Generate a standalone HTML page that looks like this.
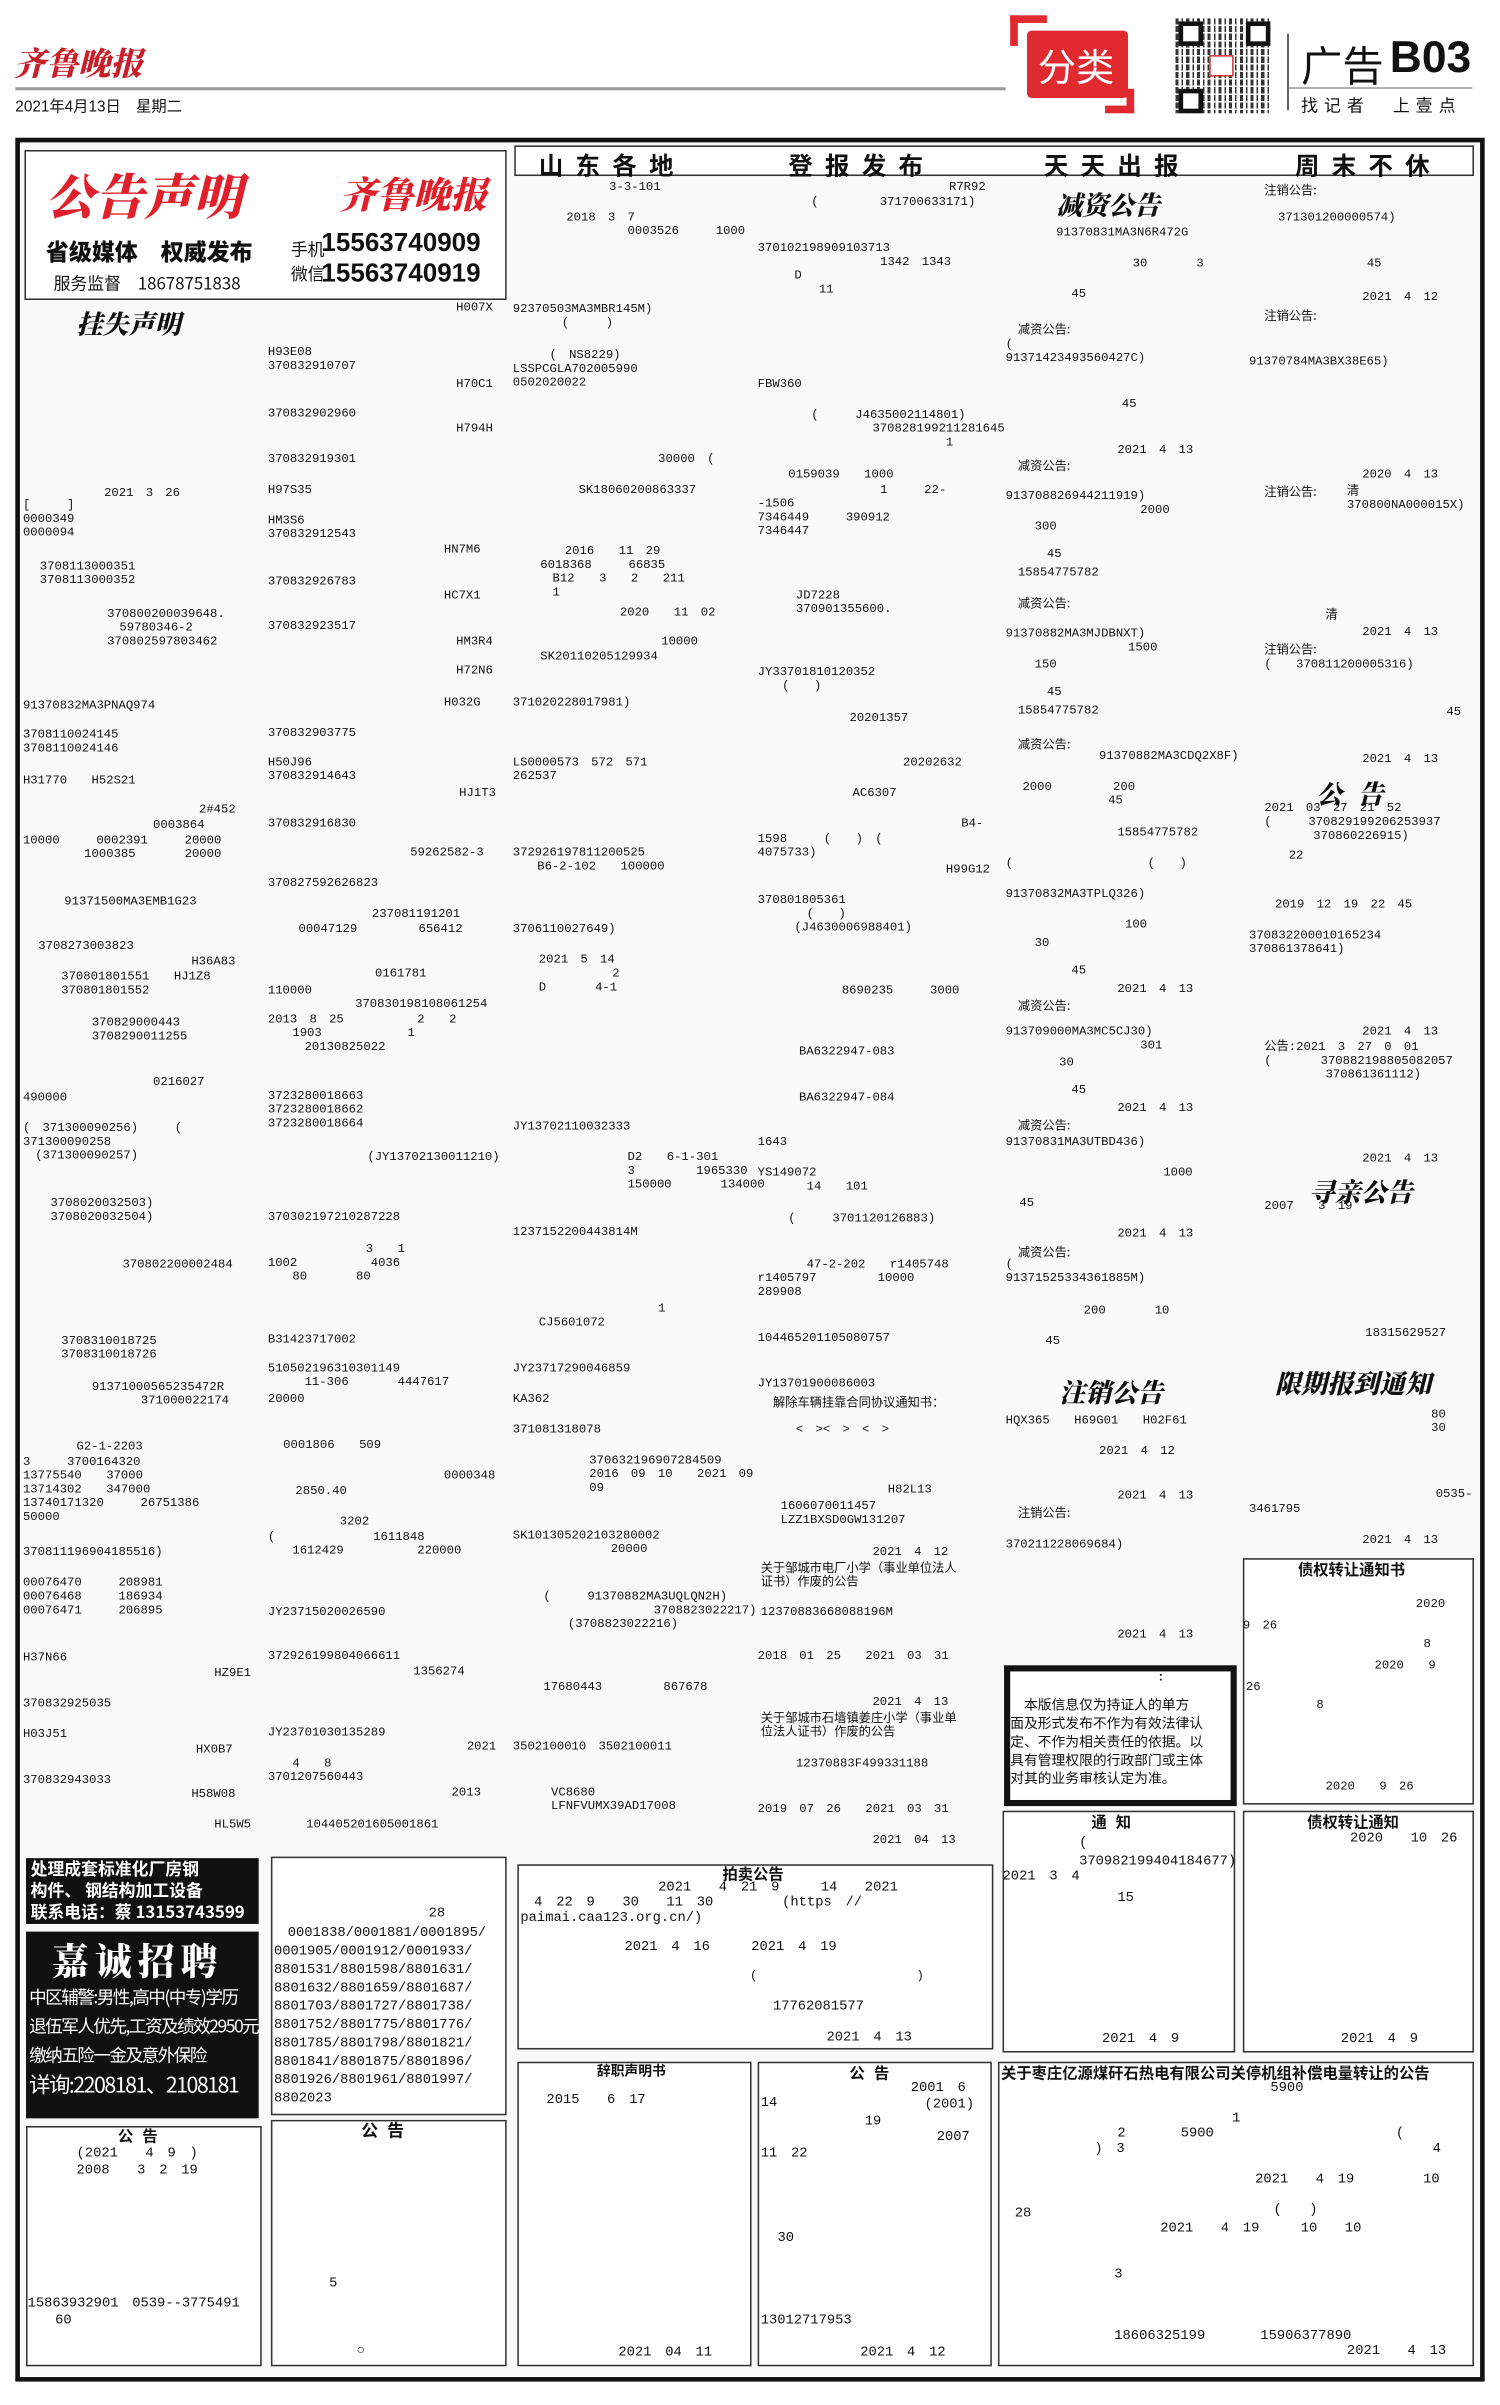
<!DOCTYPE html>
<html><head><meta charset="utf-8">
<style>
html,body{margin:0;padding:0;background:#fff;}
body{width:1500px;height:2404px;overflow:hidden;position:relative;}
#w{position:absolute;left:0;top:0;width:980px;height:1571px;transform:scale(1.5306);transform-origin:0 0;font-family:"Liberation Mono","Noto Sans CJK SC",monospace;color:#111;}
.a{position:absolute;white-space:nowrap;}
.t{position:absolute;white-space:nowrap;font-size:8px;line-height:9px;font-family:"Liberation Mono","Noto Sans CJK SC",monospace;}
.b{position:absolute;border:1px solid #333;background:#fff;}
.h{font-family:"Liberation Sans","Noto Sans CJK SC",sans-serif;font-weight:bold;}
.br{font-family:"Noto Serif CJK SC","Noto Sans CJK SC",serif;font-weight:900;font-style:italic;}
</style></head><body><div id="w">
<!-- header -->
<div class="a br" style="left:9px;top:26px;font-size:21px;color:#c8202a;">齐鲁晚报</div>
<div style="position:absolute;left:10px;top:57px;width:647px;height:2px;background:#999;"></div>
<div class="a" style="left:10px;top:61px;font-size:10px;font-family:'Liberation Sans','Noto Sans CJK SC',sans-serif;">2021年4月13日　星期二</div>
<div style="position:absolute;left:660px;top:10px;width:24px;height:5px;background:#e02a30;"></div>
<div style="position:absolute;left:660px;top:10px;width:5px;height:20px;background:#e02a30;"></div>
<div style="position:absolute;left:736px;top:58px;width:5px;height:16px;background:#e02a30;"></div>
<div style="position:absolute;left:722px;top:69px;width:19px;height:5px;background:#e02a30;"></div>
<div style="position:absolute;left:671px;top:20px;width:66px;height:44px;background:#e02a30;border-radius:3px;"></div>
<div class="a" style="left:678px;top:25px;font-size:25px;color:#fff;font-family:'Noto Sans CJK SC',sans-serif;">分类</div>
<div style="position:absolute;left:768px;top:12px;width:62px;height:62px;background:repeating-linear-gradient(90deg,#111 0 2px,#fff 2px 4px,#111 4px 5px,#fff 5px 7px),#fff;opacity:.85;"></div>
<div style="position:absolute;left:768px;top:12px;width:62px;height:62px;background:repeating-linear-gradient(0deg,transparent 0 2px,#fff 2px 3px,transparent 3px 5px);"></div>
<div style="position:absolute;left:770px;top:14px;width:10px;height:10px;border:3px solid #111;background:#fff;"></div>
<div style="position:absolute;left:814px;top:14px;width:10px;height:10px;border:3px solid #111;background:#fff;"></div>
<div style="position:absolute;left:770px;top:58px;width:10px;height:10px;border:3px solid #111;background:#fff;"></div>
<div style="position:absolute;left:790px;top:36px;width:14px;height:12px;background:#fff;border:1px solid #c33;"></div>
<div style="position:absolute;left:841px;top:22px;width:1px;height:50px;background:#333;"></div>
<div style="position:absolute;left:842px;top:57px;width:120px;height:1px;background:#999;"></div>
<div class="a" style="left:850px;top:22px;font-size:27px;font-family:'Noto Sans CJK SC',sans-serif;">广告</div>
<div class="a h" style="left:908px;top:22px;font-size:29px;">B03</div>
<div class="a" style="left:850px;top:61px;font-size:11px;font-family:'Noto Sans CJK SC',sans-serif;letter-spacing:4px;">找记者　上壹点</div>

<!-- main frame -->
<div style="position:absolute;left:10px;top:90px;width:954px;height:1460px;border:3px solid #111;background:#faf9fa;"></div>

<!-- top left box -->
<div class="b" style="left:16px;top:98px;width:313px;height:96px;border-width:1px;"></div>
<div class="a br" style="left:30px;top:104px;font-size:32px;color:#e0202a;">公告声明</div>
<div class="a br" style="left:222px;top:108px;font-size:24px;color:#e0202a;">齐鲁晚报</div>
<div class="a h" style="left:30px;top:154px;font-size:15px;font-family:'Noto Sans CJK SC',sans-serif;font-weight:900;">省级媒体　权威发布</div>
<div class="a" style="left:35px;top:177px;font-size:11px;font-family:'Noto Sans CJK SC',sans-serif;">服务监督　18678751838</div>
<div class="a" style="left:190px;top:155px;font-size:11px;font-family:'Noto Sans CJK SC',sans-serif;">手机</div>
<div class="a" style="left:190px;top:171px;font-size:11px;font-family:'Noto Sans CJK SC',sans-serif;">微信</div>
<div class="a h" style="left:210px;top:149px;font-size:17px;">15563740909</div>
<div class="a h" style="left:210px;top:169px;font-size:17px;">15563740919</div>
<div class="a br" style="left:50px;top:198px;font-size:17px;">挂失声明</div>

<!-- banner -->
<div style="position:absolute;left:336px;top:95px;width:625px;height:18px;border:1px solid #333;background:#fff;"></div>
<div class="a" style="left:352px;top:95px;font-size:16px;font-weight:bold;font-family:'Noto Sans CJK SC',sans-serif;letter-spacing:8px;">山东各地</div>
<div class="a" style="left:515px;top:95px;font-size:16px;font-weight:bold;font-family:'Noto Sans CJK SC',sans-serif;letter-spacing:8px;">登报发布</div>
<div class="a" style="left:682px;top:95px;font-size:16px;font-weight:bold;font-family:'Noto Sans CJK SC',sans-serif;letter-spacing:8px;">天天出报</div>
<div class="a" style="left:846px;top:95px;font-size:16px;font-weight:bold;font-family:'Noto Sans CJK SC',sans-serif;letter-spacing:8px;">周末不休</div>

<!-- headings -->
<div class="a br" style="left:690px;top:120px;font-size:17px;">减资公告</div>
<div class="a br" style="left:860px;top:505px;font-size:17px;letter-spacing:10px;">公告</div>
<div class="a br" style="left:855px;top:765px;font-size:17px;">寻亲公告</div>
<div class="a br" style="left:692px;top:896px;font-size:17px;">注销公告</div>
<div class="a br" style="left:833px;top:890px;font-size:17px;">限期报到通知</div>

<!-- col1 text -->
<div class="t" style="left:298px;top:197px">H007X</div>
<div class="t" style="left:175px;top:226px">H93E08<br>370832910707</div>
<div class="t" style="left:298px;top:247px">H70C1</div>
<div class="t" style="left:175px;top:266px">370832902960</div>
<div class="t" style="left:298px;top:276px">H794H</div>
<div class="t" style="left:175px;top:296px">370832919301</div>
<div class="t" style="left:68px;top:318px">2021　3　26</div>
<div class="t" style="left:175px;top:316px">H97S35</div>
<div class="t" style="left:15px;top:326px">[　　　]<br>0000349<br>0000094</div>
<div class="t" style="left:175px;top:336px">HM3S6<br>370832912543</div>
<div class="t" style="left:290px;top:355px">HN7M6</div>
<div class="t" style="left:26px;top:366px">3708113000351<br>3708113000352</div>
<div class="t" style="left:175px;top:376px">370832926783</div>
<div class="t" style="left:290px;top:385px">HC7X1</div>
<div class="t" style="left:70px;top:397px">370800200039648.<br>　59780346-2<br>370802597803462</div>
<div class="t" style="left:175px;top:405px">370832923517</div>
<div class="t" style="left:298px;top:415px">HM3R4</div>
<div class="t" style="left:298px;top:434px">H72N6</div>
<div class="t" style="left:15px;top:457px">91370832MA3PNAQ974</div>
<div class="t" style="left:290px;top:455px">H032G</div>
<div class="t" style="left:15px;top:476px">3708110024145<br>3708110024146</div>
<div class="t" style="left:175px;top:475px">370832903775</div>
<div class="t" style="left:175px;top:494px">H50J96<br>370832914643</div>
<div class="t" style="left:15px;top:506px">H31770　　H52S21</div>
<div class="t" style="left:300px;top:514px">HJ1T3</div>
<div class="t" style="left:130px;top:525px">2#452</div>
<div class="t" style="left:100px;top:535px">0003864</div>
<div class="t" style="left:175px;top:534px">370832916830</div>
<div class="t" style="left:15px;top:545px">10000　　　0002391　　　20000<br>　　　　　1000385　　　　20000</div>
<div class="t" style="left:268px;top:553px">59262582-3</div>
<div class="t" style="left:175px;top:573px">370827592626823</div>
<div class="t" style="left:42px;top:585px">91371500MA3EMB1G23</div>
<div class="t" style="left:243px;top:593px">237081191201</div>
<div class="t" style="left:195px;top:603px">00047129　　　　　656412</div>
<div class="t" style="left:25px;top:614px">3708273003823</div>
<div class="t" style="left:125px;top:624px">H36A83</div>
<div class="t" style="left:40px;top:634px">370801801551　　HJ1Z8<br>370801801552</div>
<div class="t" style="left:245px;top:632px">0161781</div>
<div class="t" style="left:175px;top:643px">110000</div>
<div class="t" style="left:232px;top:652px">370830198108061254</div>
<div class="t" style="left:60px;top:664px">370829000443<br>3708290011255</div>
<div class="t" style="left:175px;top:662px">2013　8　25　　　　　　2　　2<br>　　1903　　　　　　　1<br>　　　20130825022</div>
<div class="t" style="left:100px;top:703px">0216027</div>
<div class="t" style="left:15px;top:713px">490000</div>
<div class="t" style="left:175px;top:712px">3723280018663<br>3723280018662<br>3723280018664</div>
<div class="t" style="left:15px;top:733px">(　371300090256)　　　(<br>371300090258<br>　(371300090257)</div>
<div class="t" style="left:240px;top:752px">(JY13702130011210)</div>
<div class="t" style="left:33px;top:782px">3708020032503)<br>3708020032504)</div>
<div class="t" style="left:175px;top:791px">370302197210287228</div>
<div class="t" style="left:80px;top:822px">370802200002484</div>
<div class="t" style="left:175px;top:812px">　　　　　　　　3　　1<br>1002　　　　　　4036<br>　　80　　　　80</div>
<div class="t" style="left:40px;top:872px">3708310018725<br>3708310018726</div>
<div class="t" style="left:175px;top:871px">B31423717002</div>
<div class="t" style="left:175px;top:890px">510502196310301149<br>　　　11-306　　　　4447617</div>
<div class="t" style="left:60px;top:902px">91371000565235472R<br>　　　　371000022174</div>
<div class="t" style="left:175px;top:910px">20000</div>
<div class="t" style="left:50px;top:941px">G2-1-2203</div>
<div class="t" style="left:185px;top:940px">0001806　　509</div>
<div class="t" style="left:15px;top:951px">3　　　3700164320<br>13775540　　37000<br>13714302　　347000<br>13740171320　　　26751386<br>50000</div>
<div class="t" style="left:290px;top:960px">0000348</div>
<div class="t" style="left:193px;top:970px">2850.40</div>
<div class="t" style="left:222px;top:990px">3202</div>
<div class="t" style="left:175px;top:1000px">(　　　　　　　　1611848<br>　　1612429　　　　　　220000</div>
<div class="t" style="left:15px;top:1010px">370811196904185516)</div>
<div class="t" style="left:15px;top:1030px">00076470　　　208981<br>00076468　　　186934<br>00076471　　　206895</div>
<div class="t" style="left:175px;top:1049px">JY23715020026590</div>
<div class="t" style="left:15px;top:1079px">H37N66</div>
<div class="t" style="left:175px;top:1078px">372926199804066611</div>
<div class="t" style="left:140px;top:1089px">HZ9E1</div>
<div class="t" style="left:270px;top:1088px">1356274</div>
<div class="t" style="left:15px;top:1109px">370832925035</div>
<div class="t" style="left:15px;top:1129px">H03J51</div>
<div class="t" style="left:175px;top:1128px">JY23701030135289</div>
<div class="t" style="left:128px;top:1139px">HX0B7</div>
<div class="t" style="left:305px;top:1137px">2021</div>
<div class="t" style="left:175px;top:1148px">　　4　　8<br>3701207560443</div>
<div class="t" style="left:15px;top:1159px">370832943033</div>
<div class="t" style="left:125px;top:1168px">H58W08</div>
<div class="t" style="left:295px;top:1167px">2013</div>
<div class="t" style="left:140px;top:1188px">HL5W5</div>
<div class="t" style="left:200px;top:1188px">104405201605001861</div>

<!-- col3 -->
<div class="t" style="left:398px;top:118px">3-3-101</div>
<div class="t" style="left:370px;top:138px">2018　3　7<br>　　　　　0003526　　　1000</div>
<div class="t" style="left:335px;top:198px">92370503MA3MBR145M)<br>　　　　(　　　)</div>
<div class="t" style="left:335px;top:228px">　　　(　NS8229)<br>LSSPCGLA702005990<br>0502020022</div>
<div class="t" style="left:430px;top:296px">30000　(</div>
<div class="t" style="left:378px;top:316px">SK18060200863337</div>
<div class="t" style="left:345px;top:356px">　　　2016　　11　29<br>　6018368　　　66835<br>　　B12　　3　　2　　211<br>　　1</div>
<div class="t" style="left:405px;top:396px">2020　　11　02</div>
<div class="t" style="left:432px;top:415px">10000</div>
<div class="t" style="left:353px;top:425px">SK20110205129934</div>
<div class="t" style="left:335px;top:455px">371020228017981)</div>
<div class="t" style="left:335px;top:494px">LS0000573　572　571<br>262537</div>
<div class="t" style="left:335px;top:553px">372926197811200525<br>　　B6-2-102　　100000</div>
<div class="t" style="left:335px;top:603px">3706110027649)</div>
<div class="t" style="left:352px;top:623px">2021　5　14<br>　　　　　　2<br>D　　　　4-1</div>
<div class="t" style="left:335px;top:732px">JY13702110032333</div>
<div class="t" style="left:410px;top:752px">D2　　6-1-301<br>3　　　　　1965330<br>150000　　　　134000</div>
<div class="t" style="left:335px;top:801px">123715220044381​4M</div>
<div class="t" style="left:430px;top:851px">1</div>
<div class="t" style="left:352px;top:860px">CJ5601072</div>
<div class="t" style="left:335px;top:890px">JY23717290046859</div>
<div class="t" style="left:335px;top:910px">KA362</div>
<div class="t" style="left:335px;top:930px">371081318078</div>
<div class="t" style="left:385px;top:950px">370632196907284509<br>2016　09　10　　2021　09<br>09</div>
<div class="t" style="left:335px;top:999px">SK101305202103280002<br>　　　　　　　　20000</div>
<div class="t" style="left:355px;top:1039px">(　　　91370882MA3UQLQN2H)<br>　　　　　　　　　3708823022217)<br>　　(3708823022216)</div>
<div class="t" style="left:355px;top:1098px">17680443　　　　　867678</div>
<div class="t" style="left:335px;top:1137px">3502100010　3502100011</div>
<div class="t" style="left:360px;top:1167px">VC8680<br>LFNFVUMX39AD17008</div>

<!-- col4 -->
<div class="t" style="left:620px;top:118px">R7R92</div>
<div class="t" style="left:530px;top:128px">(　　　　　371700633171)</div>
<div class="t" style="left:495px;top:158px">370102198909103713<br>　　　　　　　　　　1342　1343<br>　　　D<br>　　　　　11</div>
<div class="t" style="left:495px;top:247px">FBW360</div>
<div class="t" style="left:530px;top:267px">(　　　J4635002114801)<br>　　　　　370828199211281645<br>　　　　　　　　　　　1</div>
<div class="t" style="left:515px;top:306px">0159039　　1000</div>
<div class="t" style="left:495px;top:316px">　　　　　　　　　　1　　　22-<br>-1506<br>7346449　　　390912<br>7346447</div>
<div class="t" style="left:520px;top:385px">JD7228<br>370901355600.</div>
<div class="t" style="left:495px;top:435px">JY33701810120352<br>　　(　　)</div>
<div class="t" style="left:555px;top:465px">20201357</div>
<div class="t" style="left:590px;top:494px">20202632</div>
<div class="t" style="left:557px;top:514px">AC6307</div>
<div class="t" style="left:628px;top:534px">B4-</div>
<div class="t" style="left:495px;top:544px">1598　　　(　　)　(<br>4075733)</div>
<div class="t" style="left:618px;top:564px">H99G12</div>
<div class="t" style="left:495px;top:584px">370801805361<br>　　　　(　　)<br>　　　(J4630006988401)</div>
<div class="t" style="left:550px;top:643px">8690235　　　3000</div>
<div class="t" style="left:522px;top:683px">BA6322947-083</div>
<div class="t" style="left:522px;top:713px">BA6322947-084</div>
<div class="t" style="left:495px;top:742px">1643</div>
<div class="t" style="left:495px;top:762px">YS149072<br>　　　　14　　101</div>
<div class="t" style="left:515px;top:792px">(　　　3701120126883)</div>
<div class="t" style="left:495px;top:822px">　　　　47-2-202　　r1405748<br>r1405797　　　　　10000<br>289908</div>
<div class="t" style="left:495px;top:870px">104465201105080757</div>
<div class="t" style="left:495px;top:900px">JY13701900086003</div>
<div class="t" style="left:505px;top:912px;font-family:'Noto Sans CJK SC',sans-serif">解除车辆挂靠合同协议通知书：</div>
<div class="t" style="left:520px;top:930px">&lt;　&gt;&lt;　&gt;　&lt;　&gt;</div>
<div class="t" style="left:580px;top:969px">H82L13</div>
<div class="t" style="left:510px;top:980px">1606070011457<br>LZZ1BXSD0GW131207</div>
<div class="t" style="left:570px;top:1010px">2021　4　12</div>
<div class="t" style="left:497px;top:1020px;font-family:'Noto Sans CJK SC',sans-serif">关于邹城市电厂小学（事业单位法人<br>证书）作废的公告</div>
<div class="t" style="left:497px;top:1049px">12370883668088196M</div>
<div class="t" style="left:495px;top:1078px">2018　01　25　　2021　03　31</div>
<div class="t" style="left:570px;top:1108px">2021　4　13</div>
<div class="t" style="left:497px;top:1118px;font-family:'Noto Sans CJK SC',sans-serif">关于邹城市石墙镇姜庄小学（事业单<br>位法人证书）作废的公告</div>
<div class="t" style="left:520px;top:1148px">12370883F499331188</div>
<div class="t" style="left:495px;top:1178px">2019　07　26　　2021　03　31</div>
<div class="t" style="left:570px;top:1198px">2021　04　13</div>

<!-- col5 -->
<div class="t" style="left:690px;top:148px">91370831MA3N6R472G</div>
<div class="t" style="left:740px;top:168px">30　　　　3</div>
<div class="t" style="left:700px;top:188px">45</div>
<div class="t" style="left:665px;top:211px;font-family:'Noto Sans CJK SC',sans-serif">减资公告:</div>
<div class="t" style="left:657px;top:221px">(<br>91371423493560427C)</div>
<div class="t" style="left:733px;top:260px">45</div>
<div class="t" style="left:730px;top:290px">2021　4　13</div>
<div class="t" style="left:665px;top:300px;font-family:'Noto Sans CJK SC',sans-serif">减资公告:</div>
<div class="t" style="left:657px;top:320px">913708826944211919)<br>　　　　　　　　　　　2000</div>
<div class="t" style="left:676px;top:340px">300<br><br>　45</div>
<div class="t" style="left:665px;top:370px">15854775782</div>
<div class="t" style="left:665px;top:390px;font-family:'Noto Sans CJK SC',sans-serif">减资公告:</div>
<div class="t" style="left:657px;top:410px">91370882MA3MJDBNXT)<br>　　　　　　　　　　1500</div>
<div class="t" style="left:676px;top:430px">150<br><br>　45</div>
<div class="t" style="left:665px;top:460px">15854775782</div>
<div class="t" style="left:665px;top:482px;font-family:'Noto Sans CJK SC',sans-serif">减资公告:</div>
<div class="t" style="left:718px;top:490px">91370882MA3CDQ2X8F)</div>
<div class="t" style="left:668px;top:510px">2000　　　　　200<br>　　　　　　　45</div>
<div class="t" style="left:730px;top:540px">15854775782</div>
<div class="t" style="left:657px;top:560px">(　　　　　　　　　　　(　　)</div>
<div class="t" style="left:657px;top:580px">91370832MA3TPLQ326)</div>
<div class="t" style="left:735px;top:600px">100</div>
<div class="t" style="left:676px;top:612px">30<br><br>　　　45</div>
<div class="t" style="left:730px;top:642px">2021　4　13</div>
<div class="t" style="left:665px;top:653px;font-family:'Noto Sans CJK SC',sans-serif">减资公告:</div>
<div class="t" style="left:657px;top:670px">913709000MA3MC5CJ30)<br>　　　　　　　　　　　301</div>
<div class="t" style="left:692px;top:690px">30<br><br>　45</div>
<div class="t" style="left:730px;top:720px">2021　4　13</div>
<div class="t" style="left:665px;top:731px;font-family:'Noto Sans CJK SC',sans-serif">减资公告:</div>
<div class="t" style="left:657px;top:742px">91370831MA3UTBD436)</div>
<div class="t" style="left:760px;top:762px">1000</div>
<div class="t" style="left:666px;top:782px">45</div>
<div class="t" style="left:730px;top:802px">2021　4　13</div>
<div class="t" style="left:665px;top:814px;font-family:'Noto Sans CJK SC',sans-serif">减资公告:</div>
<div class="t" style="left:657px;top:822px">(<br>91371525334361885M)</div>
<div class="t" style="left:708px;top:852px">200　　　　10</div>
<div class="t" style="left:683px;top:872px">45</div>
<div class="t" style="left:657px;top:924px">HQX365　　H69G01　　H02F61</div>
<div class="t" style="left:718px;top:944px">2021　4　12</div>
<div class="t" style="left:730px;top:973px">2021　4　13</div>
<div class="t" style="left:665px;top:984px;font-family:'Noto Sans CJK SC',sans-serif">注销公告:</div>
<div class="t" style="left:657px;top:1005px">370211228069684)</div>
<div class="t" style="left:730px;top:1064px">2021　4　13</div>

<!-- col6 -->
<div class="t" style="left:826px;top:120px;font-family:'Noto Sans CJK SC',sans-serif">注销公告:</div>
<div class="t" style="left:835px;top:138px">371301200000574)</div>
<div class="t" style="left:893px;top:168px">45</div>
<div class="t" style="left:890px;top:190px">2021　4　12</div>
<div class="t" style="left:826px;top:202px;font-family:'Noto Sans CJK SC',sans-serif">注销公告:</div>
<div class="t" style="left:816px;top:232px">91370784MA3BX38E65)</div>
<div class="t" style="left:890px;top:306px">2020　4　13</div>
<div class="t" style="left:826px;top:317px;font-family:'Noto Sans CJK SC',sans-serif">注销公告:</div>
<div class="t" style="left:880px;top:317px">清</div>
<div class="t" style="left:880px;top:326px">370800NA000015X)</div>
<div class="t" style="left:866px;top:398px">清</div>
<div class="t" style="left:890px;top:409px">2021　4　13</div>
<div class="t" style="left:826px;top:420px;font-family:'Noto Sans CJK SC',sans-serif">注销公告:</div>
<div class="t" style="left:826px;top:430px">(　　370811200005316)</div>
<div class="t" style="left:945px;top:461px">45</div>
<div class="t" style="left:890px;top:492px">2021　4　13</div>
<div class="t" style="left:826px;top:524px">2021　03　27　21　52<br>(　　　370829199206253937<br>　　　　370860226915)</div>
<div class="t" style="left:842px;top:555px">22</div>
<div class="t" style="left:833px;top:587px">2019　12　19　22　45</div>
<div class="t" style="left:816px;top:607px">370832200010165234<br>370861378641)</div>
<div class="t" style="left:890px;top:670px">2021　4　13</div>
<div class="t" style="left:826px;top:680px">公告:2021　3　27　0　01<br>(　　　　370882198805082057<br>　　　　　370861361112)</div>
<div class="t" style="left:890px;top:753px">2021　4　13</div>
<div class="t" style="left:826px;top:784px">2007　　3　19</div>
<div class="t" style="left:892px;top:867px">18315629527</div>
<div class="t" style="left:935px;top:920px">80<br>30</div>
<div class="t" style="left:938px;top:972px">0535-</div>
<div class="t" style="left:816px;top:982px">3461795</div>
<div class="t" style="left:890px;top:1002px">2021　4　13</div>

<!-- right boxes -->
<div class="b" style="left:812px;top:1018px;width:149px;height:159px;"></div>
<div class="t h" style="left:848px;top:1020px;font-size:10px;font-family:'Noto Sans CJK SC',sans-serif">债权转让通知书</div>
<div class="t" style="left:925px;top:1044px">2020</div>
<div class="t" style="left:812px;top:1058px">9　26</div>
<div class="t" style="left:930px;top:1070px">8</div>
<div class="t" style="left:898px;top:1084px">2020　　9</div>
<div class="t" style="left:814px;top:1098px">26</div>
<div class="t" style="left:860px;top:1110px">8</div>
<div class="t" style="left:866px;top:1163px">2020　　9　26</div>

<div style="position:absolute;left:656px;top:1088px;width:144px;height:84px;border:4px solid #111;background:#fff;"></div>
<div class="t" style="left:756px;top:1092px;font-weight:bold">:</div>
<div class="t" style="left:660px;top:1108px;font-size:9px;line-height:12px;font-family:'Noto Sans CJK SC',sans-serif">　本版信息仅为持证人的单方<br>面及形式发布不作为有效法律认<br>定、不作为相关责任的依据。以<br>具有管理权限的行政部门或主体<br>对其的业务审核认定为准。</div>

<!-- bottom row -->
<div style="position:absolute;left:17px;top:1214px;width:152px;height:43px;background:#111;"></div>
<div class="a" style="left:20px;top:1214px;font-size:11px;line-height:14px;color:#fff;font-weight:bold;font-family:'Noto Sans CJK SC',sans-serif;">处理成套标准化厂房钢<br>构件、 钢结构加工设备<br>联系电话：蔡 13153743599</div>
<div style="position:absolute;left:17px;top:1262px;width:152px;height:122px;background:#111;"></div>
<div class="a" style="left:34px;top:1262px;font-size:24px;color:#fff;font-weight:900;font-family:'Noto Serif CJK SC',serif;letter-spacing:4px;">嘉诚招聘</div>
<div class="a" style="left:19px;top:1296px;font-size:11.5px;line-height:19px;color:#fff;font-family:'Noto Sans CJK SC',sans-serif;letter-spacing:-1px;">中区辅警:男性,高中(中专)学历<br>退伍军人优先,工资及绩效2950元<br>缴纳五险一金及意外保险<br><span style="font-size:14px;">详询:2208181、2108181</span></div>

<div class="b" style="left:177px;top:1213px;width:152px;height:167px;"></div>
<div class="t" style="left:280px;top:1246px;font-size:9px">28</div>
<div class="t" style="left:179px;top:1257px;font-size:9px;line-height:12px">　0001838/0001881/0001895/<br>0001905/0001912/0001933/<br>8801531/8801598/8801631/<br>8801632/8801659/8801687/<br>8801703/8801727/8801738/<br>8801752/8801775/8801776/<br>8801785/8801798/8801821/<br>8801841/8801875/8801896/<br>8801926/8801961/8801997/<br>8802023</div>

<div class="b" style="left:338px;top:1218px;width:309px;height:119px;"></div>
<div class="t h" style="left:472px;top:1219px;font-size:10px;font-family:'Noto Sans CJK SC',sans-serif">拍卖公告</div>
<div class="t" style="left:340px;top:1228px;font-size:9px;line-height:10px">　　　　　　　　　　2021　　4　21　9　　　14　　2021<br>　4　22　9　　30　　11　30　　　　　(https　//<br>paimai.caa123.org.cn/)</div>
<div class="t" style="left:408px;top:1268px;font-size:9px">2021　4　16　　　2021　4　19</div>
<div class="t" style="left:490px;top:1287px">(　　　　　　　　　　　　　)</div>
<div class="t" style="left:505px;top:1307px;font-size:9px">17762081577</div>
<div class="t" style="left:540px;top:1327px;font-size:9px">2021　4　13</div>

<div class="b" style="left:655px;top:1183px;width:150px;height:156px;"></div>
<div class="t h" style="left:713px;top:1185px;font-size:10px;font-family:'Noto Sans CJK SC',sans-serif;letter-spacing:6px">通知</div>
<div class="t" style="left:705px;top:1198px;font-size:9px;line-height:12px">(<br>370982199404184677)</div>
<div class="t" style="left:655px;top:1222px;font-size:9px">2021　3　4</div>
<div class="t" style="left:730px;top:1236px;font-size:9px">15</div>
<div class="t" style="left:720px;top:1328px;font-size:9px">2021　4　9</div>

<div class="b" style="left:812px;top:1183px;width:149px;height:156px;"></div>
<div class="t h" style="left:854px;top:1185px;font-size:10px;font-family:'Noto Sans CJK SC',sans-serif">债权转让通知</div>
<div class="t" style="left:882px;top:1197px;font-size:9px">2020　　10　26</div>
<div class="t" style="left:876px;top:1328px;font-size:9px">2021　4　9</div>

<div class="b" style="left:17px;top:1389px;width:152px;height:155px;"></div>
<div class="t h" style="left:77px;top:1390px;font-size:10px;font-family:'Noto Sans CJK SC',sans-serif;letter-spacing:6px">公告</div>
<div class="t" style="left:50px;top:1402px;font-size:9px;line-height:11px">(2021　　4　9　)<br>2008　　3　2　19</div>
<div class="t" style="left:18px;top:1500px;font-size:9px;line-height:11px">15863932901　0539--3775491<br>　　60</div>

<div class="b" style="left:177px;top:1385px;width:152px;height:159px;"></div>
<div class="t h" style="left:236px;top:1388px;font-size:11px;font-family:'Noto Sans CJK SC',sans-serif;letter-spacing:6px">公告</div>
<div class="t" style="left:215px;top:1488px;font-size:9px">5</div>
<div class="t" style="left:233px;top:1532px;font-size:9px">○</div>

<div class="b" style="left:338px;top:1347px;width:151px;height:197px;"></div>
<div class="t h" style="left:390px;top:1348px;font-size:9px;font-family:'Noto Sans CJK SC',sans-serif">辞职声明书</div>
<div class="t" style="left:357px;top:1368px;font-size:9px">2015　　6　17</div>
<div class="t" style="left:404px;top:1533px;font-size:9px">2021　04　11</div>

<div class="b" style="left:495px;top:1347px;width:151px;height:197px;"></div>
<div class="t h" style="left:555px;top:1349px;font-size:10px;font-family:'Noto Sans CJK SC',sans-serif;letter-spacing:6px">公告</div>
<div class="t" style="left:595px;top:1359px;font-size:9px;line-height:11px">2001　6<br>　(2001)</div>
<div class="t" style="left:497px;top:1370px;font-size:9px">14</div>
<div class="t" style="left:565px;top:1382px;font-size:9px">19</div>
<div class="t" style="left:612px;top:1392px;font-size:9px">2007</div>
<div class="t" style="left:497px;top:1403px;font-size:9px">11　22</div>
<div class="t" style="left:508px;top:1458px;font-size:9px">30</div>
<div class="t" style="left:497px;top:1512px;font-size:9px">13012717953</div>
<div class="t" style="left:562px;top:1533px;font-size:9px">2021　4　12</div>

<div class="b" style="left:652px;top:1347px;width:309px;height:197px;"></div>
<div class="t h" style="left:654px;top:1349px;font-size:10px;font-family:'Noto Sans CJK SC',sans-serif">关于枣庄亿源煤矸石热电有限公司关停机组补偿电量转让的公告</div>
<div class="t" style="left:830px;top:1360px;font-size:9px">5900</div>
<div class="t" style="left:805px;top:1380px;font-size:9px">1</div>
<div class="t" style="left:730px;top:1390px;font-size:9px">2　　　　5900</div>
<div class="t" style="left:912px;top:1390px;font-size:9px">(</div>
<div class="t" style="left:715px;top:1400px;font-size:9px">)　3</div>
<div class="t" style="left:936px;top:1400px;font-size:9px">4</div>
<div class="t" style="left:820px;top:1420px;font-size:9px">2021　　4　19　　　　　10</div>
<div class="t" style="left:832px;top:1440px;font-size:9px">(　　)</div>
<div class="t" style="left:663px;top:1442px;font-size:9px">28</div>
<div class="t" style="left:758px;top:1452px;font-size:9px">2021　　4　19　　　10　　10</div>
<div class="t" style="left:728px;top:1482px;font-size:9px">3</div>
<div class="t" style="left:728px;top:1522px;font-size:9px">18606325199　　　　15906377890</div>
<div class="t" style="left:880px;top:1532px;font-size:9px">2021　　4　13</div>
</div></body></html>
